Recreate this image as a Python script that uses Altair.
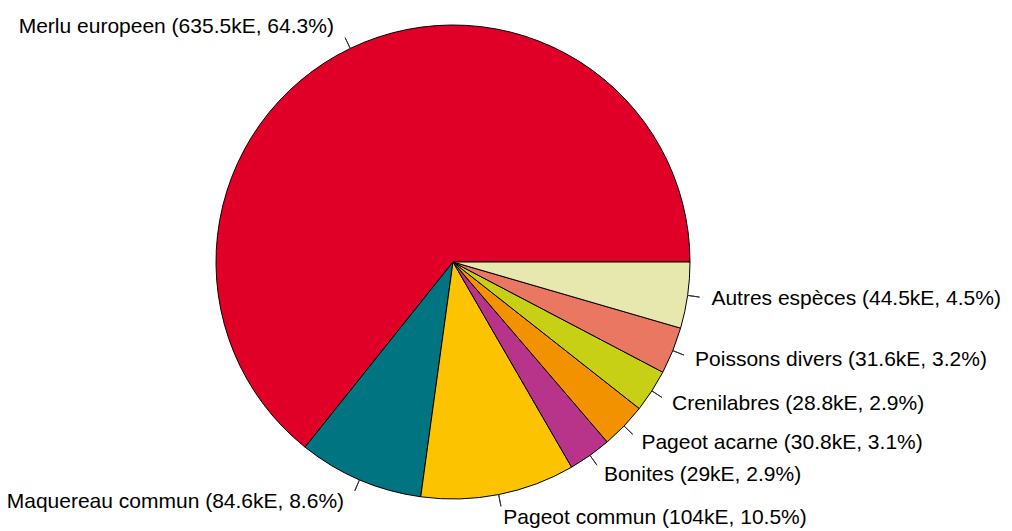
import math
import altair as alt
import pandas as pd

species = ["Merlu europeen", "Maquereau commun", "Pageot commun", "Bonites",
           "Pageot acarne", "Crenilabres", "Poissons divers", "Autres espèces"]
values_ke = [635.5, 84.6, 104, 29, 30.8, 28.8, 31.6, 44.5]
value_labels = ["635.5kE", "84.6kE", "104kE", "29kE", "30.8kE", "28.8kE", "31.6kE", "44.5kE"]
percents = ["64.3%", "8.6%", "10.5%", "2.9%", "3.1%", "2.9%", "3.2%", "4.5%"]
colors = ["#E00027", "#007480", "#FCC300", "#B8348A", "#F39200", "#C8D016", "#EA7762", "#E7E8AE"]

n = len(species)
df = pd.DataFrame({
    "species": species,
    "value": values_ke,
    "label": [f"{s} ({v}, {p})" for s, v, p in zip(species, value_labels, percents)],
    "rord": [n - 1 - i for i in range(n)],
})

theta_scale = alt.Scale(range=[math.pi / 2, math.pi / 2 + 2 * math.pi])
color = alt.Color("species:N", scale=alt.Scale(domain=species, range=colors), legend=None)

base = alt.Chart(df)

pie = base.mark_arc(radius=237, stroke="black", strokeWidth=1).encode(
    theta=alt.Theta("value:Q", stack=True, scale=theta_scale),
    color=color,
    order=alt.Order("rord:Q"),
)

mid = (
    base.transform_joinaggregate(total="sum(value)")
    .transform_window(cum="sum(value)", sort=[alt.SortField("rord")], frame=[None, 0])
    .transform_calculate(mid="datum.cum - datum.value / 2")
    .transform_calculate(side="cos(2 * PI * datum.mid / datum.total) > 0 ? 'R' : 'L'")
)

ticks = mid.mark_arc(radius=237, radius2=249, stroke="#333333", strokeWidth=1,
                     fillOpacity=0).encode(
    theta=alt.Theta("mid:Q", stack=None, scale=theta_scale),
    theta2="mid:Q",
)

text_style = dict(radius=261, baseline="middle", fontSize=21,
                  font="Liberation Sans", color="black")

right_labels = mid.transform_filter("datum.side == 'R'").mark_text(
    align="left", **text_style).encode(
    theta=alt.Theta("mid:Q", stack=None, scale=theta_scale),
    text="label:N",
)
left_labels = mid.transform_filter("datum.side == 'L'").mark_text(
    align="right", dx=-6, **text_style).encode(
    theta=alt.Theta("mid:Q", stack=None, scale=theta_scale),
    text="label:N",
)

chart = alt.layer(pie, ticks, right_labels, left_labels).properties(
    width=890, height=508,
    autosize=alt.AutoSizeParams(type="none"),
    padding={"left": 0, "top": 0, "right": 106, "bottom": 15},
).configure_view(stroke=None)

chart.save("out.html", embed_options={"renderer": "svg", "actions": False})
